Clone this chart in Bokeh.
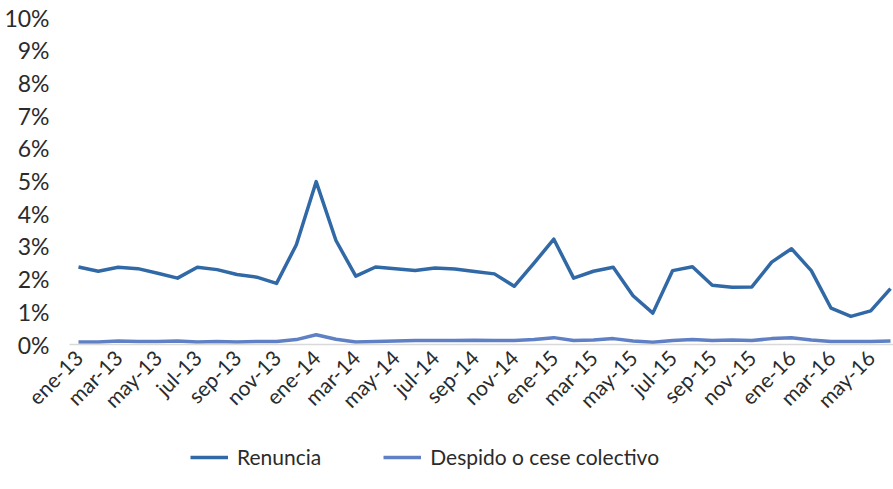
from bokeh.plotting import figure
from bokeh.models import ColumnDataSource, FixedTicker, PrintfTickFormatter, Legend, LegendItem, Range1d
from bokeh.embed import file_html
from bokeh.resources import INLINE
import math

months = [
    "ene-13", "feb-13", "mar-13", "abr-13", "may-13", "jun-13", "jul-13", "ago-13", "sep-13", "oct-13", "nov-13", "dic-13",
    "ene-14", "feb-14", "mar-14", "abr-14", "may-14", "jun-14", "jul-14", "ago-14", "sep-14", "oct-14", "nov-14", "dic-14",
    "ene-15", "feb-15", "mar-15", "abr-15", "may-15", "jun-15", "jul-15", "ago-15", "sep-15", "oct-15", "nov-15", "dic-15",
    "ene-16", "feb-16", "mar-16", "abr-16", "may-16", "jun-16",
]

renuncia = [
    2.37, 2.24, 2.36, 2.32, 2.18, 2.03, 2.36, 2.29, 2.14, 2.06, 1.87, 3.05,
    4.98, 3.18, 2.09, 2.37, 2.32, 2.26, 2.34, 2.31, 2.23, 2.16, 1.78, 2.49,
    3.22, 2.03, 2.24, 2.36, 1.49, 0.96, 2.26, 2.38, 1.81, 1.75, 1.76, 2.52,
    2.93, 2.26, 1.11, 0.86, 1.03, 1.71,
]

despido = [
    0.08, 0.08, 0.11, 0.09, 0.09, 0.11, 0.08, 0.09, 0.08, 0.09, 0.09, 0.15,
    0.30, 0.16, 0.08, 0.09, 0.11, 0.12, 0.12, 0.12, 0.13, 0.12, 0.12, 0.15,
    0.21, 0.12, 0.14, 0.18, 0.11, 0.07, 0.12, 0.15, 0.12, 0.14, 0.12, 0.18,
    0.21, 0.14, 0.09, 0.09, 0.09, 0.11,
]

y_ticks = [0, 1, 2, 3, 4, 5, 6, 7, 8, 9, 10]

FONT = "Lato"
TEXT = "#2b2b2b"

x = list(range(len(months)))
src = ColumnDataSource(dict(x=x, renuncia=renuncia, despido=despido))

X0 = -0.454   # left end of the category axis
X_END = 41.151

p = figure(width=893, height=489, output_backend="svg", toolbar_location=None,
           x_range=Range1d(-3.938, X_END), y_range=Range1d(-4.434, 10.52),
           min_border_left=0, min_border_right=0, min_border_top=0, min_border_bottom=0)
p.outline_line_color = None
p.xgrid.grid_line_color = None
p.ygrid.grid_line_color = None
p.background_fill_color = "white"
p.border_fill_color = "white"

r1 = p.line("x", "renuncia", source=src, line_color="#3169A6", line_width=3.5, line_join="round")
r2 = p.line("x", "despido", source=src, line_color="#5F80C4", line_width=3.5, line_join="round")

# y axis drawn inside the frame at the left end of the category axis
p.yaxis.fixed_location = X0
p.yaxis.bounds = (0, 10)
p.yaxis.ticker = FixedTicker(ticks=y_ticks)
p.yaxis.formatter = PrintfTickFormatter(format="%d%%")
p.yaxis.axis_line_color = None
p.yaxis.major_tick_line_color = None
p.yaxis.major_tick_out = 0
p.yaxis.minor_tick_line_color = None
p.yaxis.major_label_standoff = 20
p.yaxis.major_label_text_font = FONT
p.yaxis.major_label_text_font_size = "23px"
p.yaxis.major_label_text_color = TEXT

# x axis placed at y = 0 inside the frame
p.xaxis.fixed_location = 0
p.xaxis.bounds = (X0, X_END)
p.xaxis.ticker = FixedTicker(ticks=x[::2])
p.xaxis.major_label_overrides = {i: months[i] for i in x[::2]}
p.xaxis.major_label_orientation = math.pi / 4
p.xaxis.axis_line_color = "#D9D9D9"
p.xaxis.axis_line_width = 1.5
p.xaxis.major_tick_line_color = None
p.xaxis.major_tick_out = 0
p.xaxis.minor_tick_line_color = None
p.xaxis.major_label_standoff = 9
p.xaxis.major_label_text_font = FONT
p.xaxis.major_label_text_font_size = "21px"
p.xaxis.major_label_text_color = TEXT

legend = Legend(items=[LegendItem(label="Renuncia", renderers=[r1]),
                       LegendItem(label="Despido o cese colectivo", renderers=[r2])],
                orientation="horizontal", location=(190, 20),
                glyph_width=38, glyph_height=20, label_standoff=9, spacing=62,
                padding=0, margin=0,
                border_line_alpha=0, background_fill_alpha=0,
                label_text_font=FONT, label_text_font_size="21px", label_text_color=TEXT)
p.add_layout(legend, "center")

open("out.html", "w").write(file_html(p, INLINE))
